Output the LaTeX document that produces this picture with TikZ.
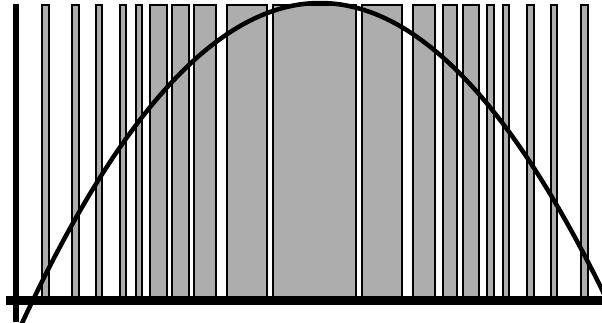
\documentclass[tikz,border=0pt]{standalone}
\begin{document}
\begin{tikzpicture}[x=1pt, y=-1pt,
    bar/.style={draw=black, line width=2pt, fill=black!32}]
    %frame
    \clip (0,0) rectangle (602,322);
    \fill[white] (0,0) rectangle (602,322);

    %bars
    \foreach \l/\r in {41/50, 71/80, 95/103, 119/127, 135/143, 149/168, 171/190,
                       193/217, 226/268, 272/357, 361/403, 412/436, 442/458,
                       462/480, 486/495, 502/510, 526/535, 550/558, 580/589}
        \draw[bar] (\l+1,5) rectangle (\r-1,300);

    %axis
    \draw[line width=5.5pt] (16,4) -- (16,322);
    \draw[line width=8.5pt] (6,300.5) -- (602,300.5);

    %curve
    \draw[line width=4.5pt] plot[domain=16:604, samples=150]
        (\x, {300-297*(1-((\x-320)/287)^2)});
\end{tikzpicture}
\end{document}
